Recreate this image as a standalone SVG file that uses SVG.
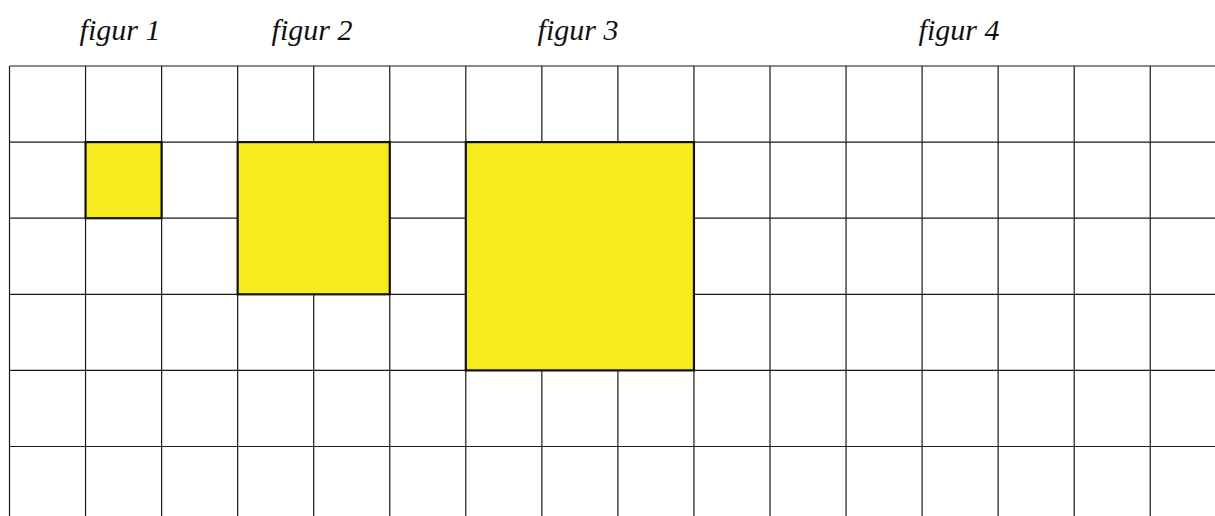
<svg xmlns="http://www.w3.org/2000/svg" width="1215" height="516" viewBox="0 0 1215 516">
<style>
.lbl{font-family:"Liberation Serif","Times New Roman",serif;font-style:italic;font-size:30px;fill:#111;text-anchor:middle}
.grid{stroke:#1a1a1a;stroke-width:1.2;fill:none}
.sq{fill:#F5EB1E;stroke:#111;stroke-width:2.2}
</style>
<rect x="0" y="0" width="1215" height="516" fill="#fff"/>
<g id="grid" class="grid">
<path d="M9.5,66 V516 M85.55,66 V516 M161.6,66 V516 M237.65,66 V516 M313.7,66 V516 M389.75,66 V516 M465.8,66 V516 M541.85,66 V516 M617.9,66 V516 M693.95,66 V516 M770,66 V516 M846.05,66 V516 M922.1,66 V516 M998.15,66 V516 M1074.2,66 V516 M1150.25,66 V516"/>
<path d="M9.5,66 H1215 M9.5,142.1 H1215 M9.5,218.2 H1215 M9.5,294.3 H1215 M9.5,370.4 H1215 M9.5,446.5 H1215"/>
</g>
<g id="figur1">
<rect class="sq" x="85.55" y="142.1" width="76.05" height="76.1"/>
<text class="lbl" x="120" y="40">figur 1</text>
</g>
<g id="figur2">
<rect class="sq" x="237.65" y="142.1" width="152.1" height="152.2"/>
<text class="lbl" x="312" y="40">figur 2</text>
</g>
<g id="figur3">
<rect class="sq" x="465.8" y="142.1" width="228.15" height="228.3"/>
<text class="lbl" x="578" y="40">figur 3</text>
</g>
<g id="figur4">
<text class="lbl" x="959" y="40">figur 4</text>
</g>
</svg>
